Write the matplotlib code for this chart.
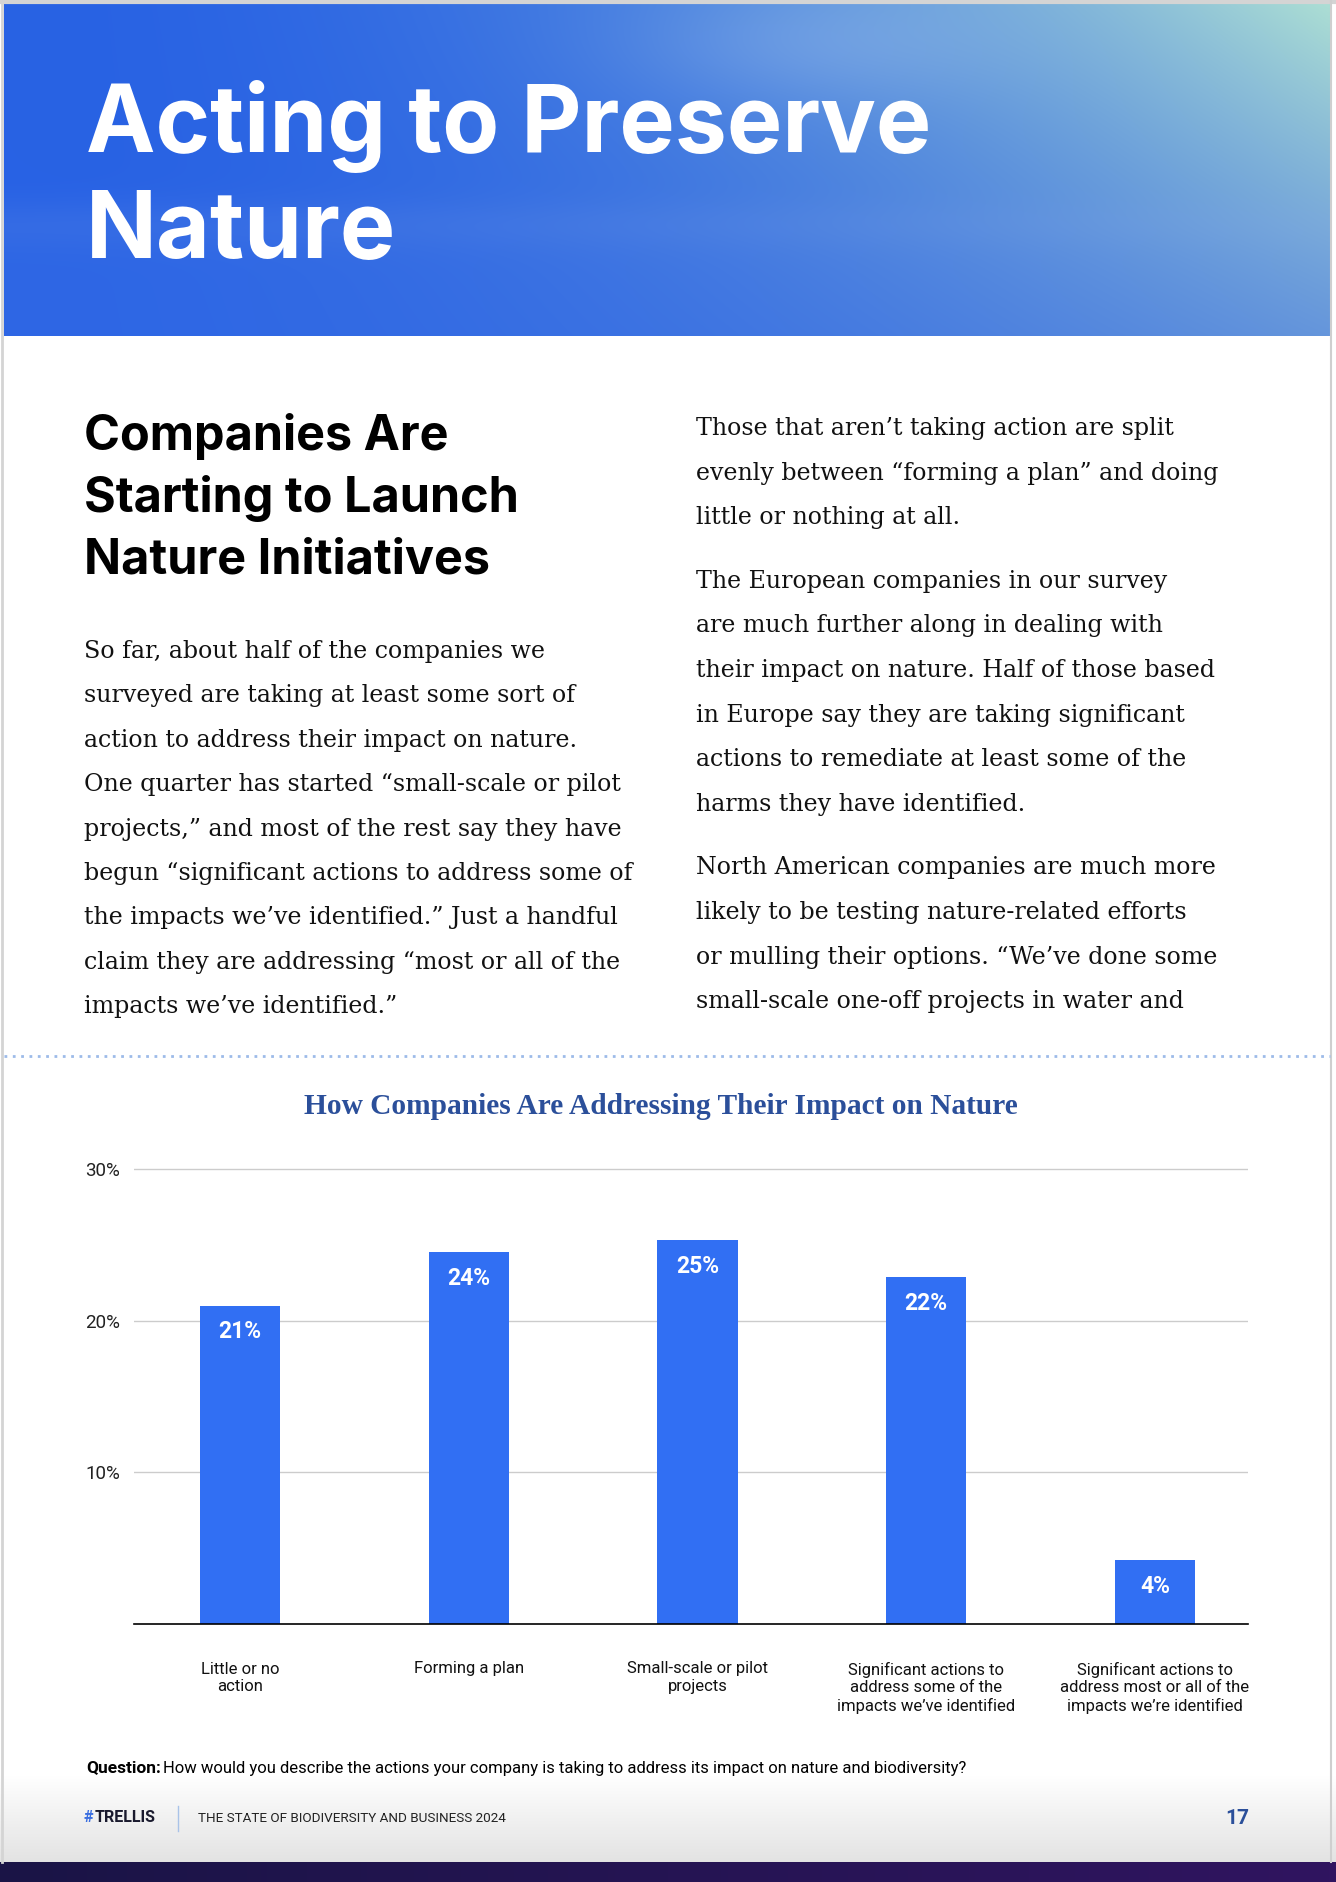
import numpy as np
import matplotlib.pyplot as plt

W, H = 1336, 1882

# chart data
categories = ["Little or no\naction", "Forming a plan", "Small-scale or pilot\nprojects",
              "Significant actions to\naddress some of the\nimpacts we\u2019ve identified",
              "Significant actions to\naddress most or all of the\nimpacts we\u2019re identified"]
shares = [21.0, 24.5, 25.3, 22.9, 4.2]
share_labels = ["21%", "24%", "25%", "22%", "4%"]
yticks = [10, 20, 30]
ytick_labels = ["10%", "20%", "30%"]

left_text = ["So far, about half of the companies we",
             "surveyed are taking at least some sort of",
             "action to address their impact on nature.",
             "One quarter has started \u201csmall-scale or pilot",
             "projects,\u201d and most of the rest say they have",
             "begun \u201csignificant actions to address some of",
             "the impacts we\u2019ve identified.\u201d Just a handful",
             "claim they are addressing \u201cmost or all of the",
             "impacts we\u2019ve identified.\u201d"]
right_text = [["Those that aren\u2019t taking action are split",
               "evenly between \u201cforming a plan\u201d and doing",
               "little or nothing at all."],
              ["The European companies in our survey",
               "are much further along in dealing with",
               "their impact on nature. Half of those based",
               "in Europe say they are taking significant",
               "actions to remediate at least some of the",
               "harms they have identified."],
              ["North American companies are much more",
               "likely to be testing nature-related efforts",
               "or mulling their options. \u201cWe\u2019ve done some",
               "small-scale one-off projects in water and"]]

fig = plt.figure(figsize=(W / 100, H / 100), dpi=100)
bg = fig.add_axes([0, 0, 1, 1])
bg.set_xlim(0, W)
bg.set_ylim(H, 0)
bg.axis('off')

# header gradient (sky, a soft cloud patch and a hazy horizon)
hx = np.linspace(0, 1, 400)[None, :]
hy = np.linspace(0, 1, 240)[:, None]
c_left = np.array([40, 98, 228]) / 255
c_top = np.array([172, 222, 212]) / 255
c_bot = np.array([118, 165, 215]) / 255
t = np.clip(hx, 0, 1) ** 1.9 * (1 - 0.25 * hy)
right = c_top * (1 - hy[..., None]) + c_bot * hy[..., None]
img = c_left * (1 - t[..., None]) + right * t[..., None]
cloud = 0.22 * np.exp(-((hx - 0.62) ** 2 / 0.02 + (hy - 0.12) ** 2 / 0.03))
img = img * (1 - cloud[..., None]) + np.array([0.72, 0.82, 0.95]) * cloud[..., None]
haze = 0.08 * np.exp(-((hy - 0.66) ** 2) / 0.006) + 0.06 / (1 + np.exp(-(hy - 0.64) / 0.03))
img = img * (1 - haze[..., None]) + np.array([0.55, 0.68, 0.92]) * haze[..., None]
bg.imshow(np.clip(img, 0, 1), extent=[4, 1330, 336, 4], aspect='auto', zorder=0,
          interpolation='bilinear')

# bottom shading and strip
gy = np.linspace(0, 1, 60)[:, None, None]
shade = np.ones((60, 2, 3)) * (1 - 0.11 * gy)
bg.imshow(shade, extent=[0, W, 1862, 1775], aspect='auto', zorder=0)
sx = np.linspace(0, 1, 200)[None, :, None]
strip = np.array([26, 20, 70]) / 255 * (1 - sx) + np.array([48, 20, 96]) / 255 * sx
bg.imshow(np.repeat(strip, 2, axis=0), extent=[0, W, 1882, 1862], aspect='auto', zorder=0)

# page frame
bg.plot([0, W], [1.5, 1.5], color='#d4d4d4', lw=3)
bg.plot([1.5, 1.5], [0, 1862], color='#d4d4d4', lw=2)
bg.plot([1331, 1331], [0, 1862], color='#cfcfcf', lw=1.5)

bg.text(86, 152, "Acting to Preserve", color='white', fontsize=67, fontweight='bold',
        family='Inter', va='baseline')
bg.text(86, 258, "Nature", color='white', fontsize=67, fontweight='bold',
        family='Inter', va='baseline')

for i, line in enumerate(["Companies Are", "Starting to Launch", "Nature Initiatives"]):
    bg.text(84, 450 + 62 * i, line, fontsize=35, fontweight='bold', family='Inter',
            color='black', va='baseline')

for i, line in enumerate(left_text):
    bg.text(84, 658 + 44.4 * i, line, fontsize=17.1, family='DejaVu Serif', color='#111111',
            va='baseline')

y0 = 435
for block in right_text:
    for line in block:
        bg.text(696, y0, line, fontsize=17.1, family='DejaVu Serif', color='#111111',
                va='baseline')
        y0 += 44.6
    y0 += 19

bg.plot([4, 1330], [1056, 1056], color='#9dbbe9', lw=2, ls=(0, (1, 2)))

bg.text(661, 1106, "How Companies Are Addressing Their Impact on Nature", fontsize=21.2,
        fontweight='bold', family='Liberation Serif', color='#2b4f9a', ha='center', va='center')

# footnote and footer
bg.text(86, 1768, "Question:", fontsize=12.5, fontweight='bold', family='Roboto', va='center')
bg.text(163, 1768, "How would you describe the actions your company is taking to address its impact on nature and biodiversity?",
        fontsize=12, family='Roboto', va='center')
bg.text(83, 1818, "#", fontsize=11.5, fontweight='bold', family='Roboto', color='#3a6ee0', va='center')
bg.text(95, 1818, "TRELLIS", fontsize=11.5, fontweight='bold', family='Roboto', color='#1a1a2e', va='center')
bg.plot([178, 178], [1806, 1831], color='#a9c3e8', lw=1)
bg.text(198, 1818, "THE STATE OF BIODIVERSITY AND BUSINESS 2024", fontsize=9.7, family='Roboto',
        color='#222222', va='center')
bg.text(1237, 1818, "17", fontsize=15, fontweight='bold', family='Roboto', color='#2b4f9a',
        ha='center', va='center')

# bar chart
ax = fig.add_axes([134 / W, 1 - 1624 / H, 1114 / W, 456 / H])
ax.patch.set_alpha(0)
x = np.arange(len(categories))
ax.bar(x, shares, width=0.352, color='#316ff3', zorder=3)
for xi, v, lab in zip(x, shares, share_labels):
    ax.annotate(lab, (xi, v), xytext=(0, -19), textcoords='offset points', ha='center',
                va='center', color='white', fontsize=16.5, fontweight='bold', family='Roboto')
ax.set_xlim(-0.464, 4.407)
ax.set_ylim(0, 30.07)
ax.set_yticks(yticks, ytick_labels)
ax.yaxis.grid(True, color='#cccccc', lw=1)
ax.set_axisbelow(True)
for s in ['top', 'right', 'left']:
    ax.spines[s].set_visible(False)
ax.spines['bottom'].set_color('black')
ax.spines['bottom'].set_linewidth(1.2)
ax.spines['bottom'].set_zorder(4)
ax.tick_params(axis='y', length=0, pad=10, labelsize=13.5, labelcolor='#222222')
ax.tick_params(axis='x', length=0, pad=27, labelsize=12, labelcolor='#111111')
ax.set_xticks(x, categories)
for lab in ax.get_xticklabels() + ax.get_yticklabels():
    lab.set_family('Roboto')
for lab in ax.get_xticklabels():
    lab.set_linespacing(1.2)

fig.savefig('out.png', dpi=100)
